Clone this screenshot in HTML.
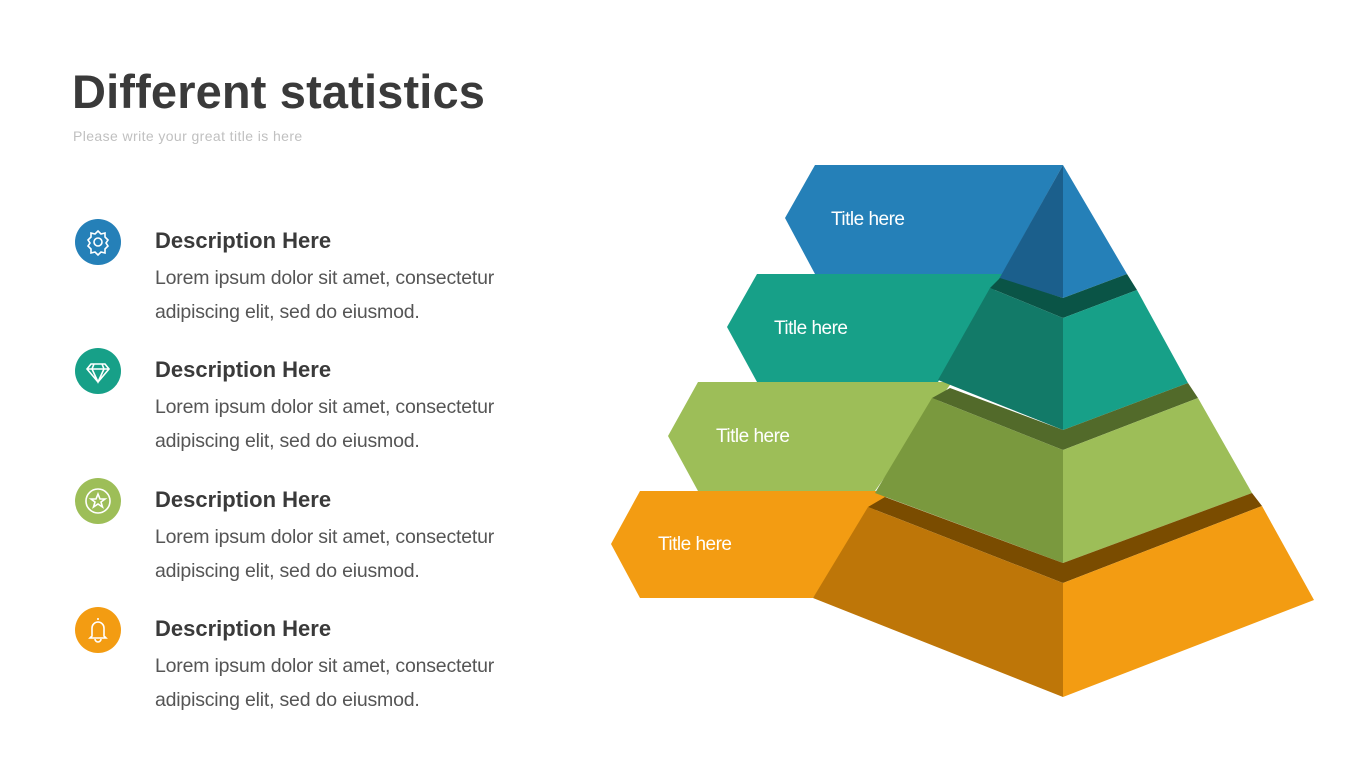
<!DOCTYPE html>
<html><head><meta charset="utf-8"><style>
body{margin:0;width:1365px;height:768px;background:#fff;position:relative;overflow:hidden;font-family:"Liberation Sans",sans-serif}
.t{position:absolute;left:72px;top:64px;font-size:47px;font-weight:bold;color:#3a3a3a;letter-spacing:0.15px}
.s{position:absolute;left:73px;top:128px;font-size:14px;color:#c0c0c0;letter-spacing:0.4px}
.h{position:absolute;left:155px;font-size:22px;font-weight:bold;color:#3a3a3a}
.p{position:absolute;left:155px;font-size:19.5px;color:#555;line-height:34px;letter-spacing:-0.2px}
</style></head><body>
<div class="t">Different statistics</div>
<div class="s">Please write your great title is here</div>

<div class="h" style="top:228px">Description Here</div>
<div class="p" style="top:261px">Lorem ipsum dolor sit amet, consectetur<br>adipiscing elit, sed do eiusmod.</div>
<div class="h" style="top:357px">Description Here</div>
<div class="p" style="top:390px">Lorem ipsum dolor sit amet, consectetur<br>adipiscing elit, sed do eiusmod.</div>
<div class="h" style="top:487px">Description Here</div>
<div class="p" style="top:520px">Lorem ipsum dolor sit amet, consectetur<br>adipiscing elit, sed do eiusmod.</div>
<div class="h" style="top:616px">Description Here</div>
<div class="p" style="top:649px">Lorem ipsum dolor sit amet, consectetur<br>adipiscing elit, sed do eiusmod.</div>

<svg width="1365" height="768" style="position:absolute;left:0;top:0">
<g fill="none" stroke="#fff" stroke-width="1.6">
<circle cx="98" cy="242" r="23" fill="#2580B8" stroke="none"/>
<circle cx="98" cy="242" r="4"/>
<path d="M98 231 l3 3 4-1 0 4 3 3 -2 3 2 3 -3 3 0 4 -4-1 -3 3 -3-3 -4 1 0-4 -3-3 2-3 -2-3 3-3 0-4 4 1z"/>
<circle cx="98" cy="371" r="23" fill="#17A088" stroke="none"/>
<path d="M91 364 h14 l4 5 -11 13 -11-13z M87 369 h22 M94 364 l-2 5 6 13 6-13 -2-5"/>
<circle cx="98" cy="501" r="23" fill="#9DBE58" stroke="none"/>
<circle cx="98" cy="501" r="12"/>
<path d="M98 494 l2 5 5 0 -4 3 1.5 5 -4.5-3 -4.5 3 1.5-5 -4-3 5 0z"/>
<circle cx="98" cy="630" r="23" fill="#F39C12" stroke="none"/>
<path d="M98 618 v2 M92 636 v-8 a6 6 0 0 1 12 0 v8 l2 2 h-16z M95 639 a3 3 0 0 0 6 0"/>
</g>

<polygon points="815,165 1063,165 1000,278 815,274 785,218" fill="#2580B8"/>
<polygon points="757,274 1005,274 938,382 757,382 727,327" fill="#17A088"/>
<polygon points="698,382 952,382 875,491 698,491 668,436" fill="#9DBE58"/>
<polygon points="640,491 890,491 813,598 640,598 611,544" fill="#F39C12"/>

<polygon points="1063,165 1127,274 1063,298" fill="#2580B8"/>
<polygon points="1063,165 999,279 1063,298" fill="#1B5F8C"/>
<polygon points="1000,278 1063,298 1127,274 1137,290 1063,318 990,288" fill="#0A5446"/>
<polygon points="990,288 1063,318 1063,430 938,380" fill="#127A68"/>
<polygon points="1063,318 1137,290 1188,383 1063,430" fill="#17A088"/>
<polygon points="950,388 1063,430 1188,383 1198,398 1063,450 932,398" fill="#526A2A"/>
<polygon points="932,398 1063,450 1063,563 875,493" fill="#7A993E"/>
<polygon points="1063,450 1198,398 1252,493 1063,563" fill="#9DBE58"/>
<polygon points="885,497 1063,563 1252,493 1262,506 1063,583 868,507" fill="#7A4C00"/>
<polygon points="868,507 1063,583 1063,697 813,598" fill="#BE7608"/>
<polygon points="1063,583 1262,506 1314,600 1063,697" fill="#F39C12"/>

<g fill="#fff" font-family="Liberation Sans, sans-serif" font-size="19" letter-spacing="-0.5">
<text x="831" y="225">Title here</text>
<text x="774" y="334">Title here</text>
<text x="716" y="442">Title here</text>
<text x="658" y="550">Title here</text>
</g>
</svg>
</body></html>
